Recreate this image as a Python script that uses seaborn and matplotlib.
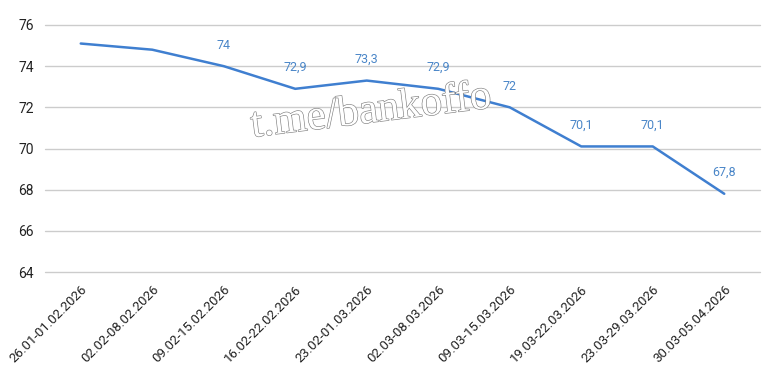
import matplotlib
matplotlib.use("Agg")
import matplotlib.pyplot as plt
import matplotlib.patheffects as pe
import seaborn as sns
import pandas as pd

weeks = ["26.01-01.02.2026", "02.02-08.02.2026", "09.02-15.02.2026", "16.02-22.02.2026",
         "23.02-01.03.2026", "02.03-08.03.2026", "09.03-15.03.2026", "19.03-22.03.2026",
         "23.03-29.03.2026", "30.03-05.04.2026"]
values = [75.1, 74.8, 74.0, 72.9, 73.3, 72.9, 72.0, 70.1, 70.1, 67.8]
labels = ["", "", "74", "72,9", "73,3", "72,9", "72", "70,1", "70,1", "67,8"]
yticks = [64, 66, 68, 70, 72, 74, 76]

sns.set_theme(style="white")
plt.rcParams['font.family'] = ['Roboto', 'DejaVu Sans']

df = pd.DataFrame({"week": weeks, "value": values, "x": range(len(weeks))})

fig = plt.figure(figsize=(7.79, 3.71), dpi=100)
ax = fig.add_axes([45/779, 1 - 272/371, (760-45)/779, (272-25)/371])

for t in yticks:
    ax.axhline(t, color="#cccccc", lw=1, zorder=0, clip_on=False)

sns.lineplot(data=df, x="x", y="value", ax=ax, color="#3f7fd0", lw=1.8, zorder=3)

for xi, v, lab in zip(df["x"], values, labels):
    if lab:
        ax.annotate(lab, (xi, v), xytext=(0, 10.5), textcoords="offset points",
                    ha="center", va="bottom", fontsize=9, color="#4a86c8")

ax.set_xlim(-0.5, 9.5)
ax.set_ylim(64, 76)
ax.set_yticks(yticks)
ax.set_yticklabels([str(t) for t in yticks], fontsize=10, color="#222222")
ax.set_xticks(range(len(weeks)))
ax.set_xticklabels(weeks, rotation=45, ha="right", rotation_mode="anchor",
                   fontsize=9.5, color="#222222")
ax.tick_params(axis="both", length=0, pad=8)
ax.set_xlabel("")
ax.set_ylabel("")
for s in ax.spines.values():
    s.set_visible(False)

fig.text(371/779, 1 - 112/371, "t.me/bankoffo", fontsize=31, family="Liberation Serif",
         color="#ffffff", rotation=7, ha="center", va="center", zorder=5,
         path_effects=[pe.withStroke(linewidth=0.9, foreground="#808080")])

fig.savefig("out.png", dpi=100, facecolor="white")
